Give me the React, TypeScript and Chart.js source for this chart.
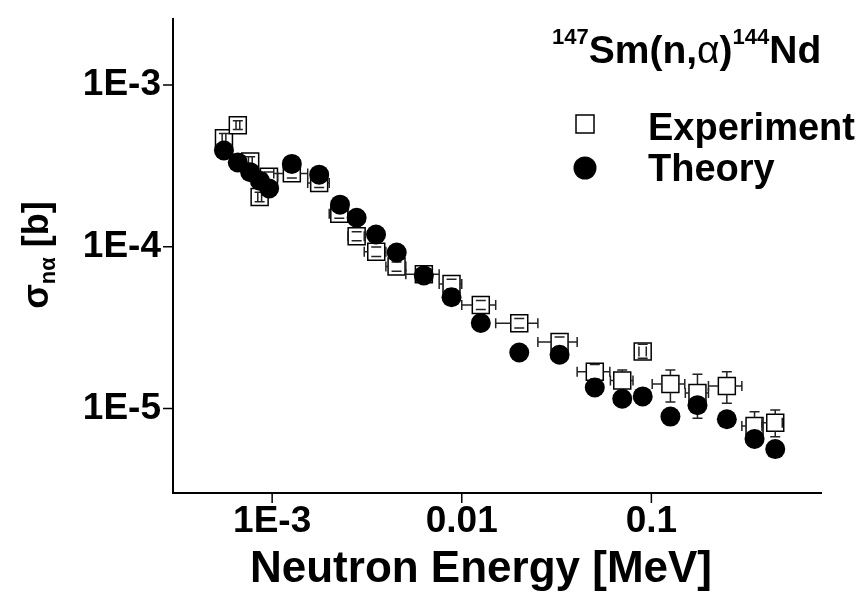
import React, { useEffect, useRef } from 'react';
import { Chart, registerables } from 'chart.js';

Chart.register(...registerables);

// ---------- data ----------
const expEnergy = [5.57e-4, 6.59e-4, 7.66e-4, 8.59e-4, 9.62e-4, 1.27e-3, 1.77e-3, 2.26e-3, 2.79e-3, 3.54e-3, 4.53e-3, 6.31e-3, 8.83e-3, 1.26e-2, 2.01e-2, 3.28e-2, 5.03e-2, 7.02e-2, 9.0e-2, 0.126, 0.175, 0.25, 0.35, 0.45];
const expSigma = [4.69e-4, 5.63e-4, 3.36e-4, 2.03e-4, 2.71e-4, 2.84e-4, 2.48e-4, 1.6e-4, 1.16e-4, 9.31e-5, 7.55e-5, 6.76e-5, 5.89e-5, 4.37e-5, 3.37e-5, 2.58e-5, 1.69e-5, 1.49e-5, 2.25e-5, 1.42e-5, 1.25e-5, 1.38e-5, 7.82e-6, 8.18e-6];
const expEnergyLow = [5.45e-4, 6.45e-4, 7.5e-4, 8.4e-4, 8.9e-4, 1.02e-3, 1.54e-3, 2.0e-3, 2.51e-3, 3.06e-3, 3.98e-3, 5.07e-3, 7.6e-3, 1.0e-2, 1.51e-2, 2.52e-2, 4.06e-2, 6.08e-2, 8.6e-2, 0.101, 0.151, 0.2, 0.3, 0.383];
const expEnergyHigh = [5.7e-4, 6.75e-4, 7.85e-4, 8.8e-4, 1.07e-3, 1.54e-3, 2.0e-3, 2.51e-3, 3.06e-3, 3.98e-3, 5.07e-3, 7.6e-3, 1.0e-2, 1.51e-2, 2.52e-2, 4.06e-2, 6.04e-2, 8.0e-2, 9.4e-2, 0.15, 0.2, 0.3, 0.383, 0.49];
const expSigmaLow = [4.4e-4, 5.3e-4, 3.15e-4, 1.9e-4, 2.55e-4, 2.66e-4, 2.32e-4, 1.5e-4, 1.09e-4, 8.7e-5, 7.05e-5, 6.3e-5, 5.5e-5, 4.1e-5, 3.15e-5, 2.4e-5, 1.52e-5, 1.28e-5, 2.05e-5, 1.1e-5, 8.73e-6, 1.08e-5, 6.4e-6, 6.7e-6];
const expSigmaHigh = [5.0e-4, 6.0e-4, 3.6e-4, 2.17e-4, 2.9e-4, 3.03e-4, 2.65e-4, 1.71e-4, 1.24e-4, 9.95e-5, 8.05e-5, 7.2e-5, 6.3e-5, 4.65e-5, 3.6e-5, 2.77e-5, 1.87e-5, 1.73e-5, 2.5e-5, 1.73e-5, 1.63e-5, 1.69e-5, 9.57e-6, 9.8e-6];

const theoryEnergy = [5.57e-4, 6.59e-4, 7.66e-4, 8.61e-4, 9.64e-4, 1.27e-3, 1.77e-3, 2.28e-3, 2.79e-3, 3.53e-3, 4.54e-3, 6.31e-3, 8.83e-3, 1.26e-2, 2.01e-2, 3.28e-2, 5.03e-2, 7.02e-2, 9.0e-2, 0.126, 0.175, 0.25, 0.35, 0.45];
const theorySigma = [3.93e-4, 3.32e-4, 2.89e-4, 2.56e-4, 2.29e-4, 3.25e-4, 2.79e-4, 1.82e-4, 1.51e-4, 1.19e-4, 9.22e-5, 6.65e-5, 4.88e-5, 3.38e-5, 2.22e-5, 2.15e-5, 1.35e-5, 1.15e-5, 1.19e-5, 8.93e-6, 1.05e-5, 8.59e-6, 6.5e-6, 5.62e-6];

const xMajorTicks = [1e-3, 1e-2, 1e-1];
const xTickLabels = ['1E-3', '0.01', '0.1'];
const yMajorTicks = [1e-5, 1e-4, 1e-3];
const yTickLabels = ['1E-5', '1E-4', '1E-3'];
const X_MIN = 3.05e-4;
const X_MAX = 0.794;
const Y_MIN = 3.01e-6;
const Y_MAX = 2.59e-3;

const seriesLabels = ['Experiment', 'Theory'];
const xTitle = 'Neutron Energy [MeV]';

const FONT = '"Liberation Sans", Arial, Helvetica, sans-serif';

function logTicks(min: number, max: number) {
  const out: { value: number; major: boolean }[] = [];
  for (let e = Math.floor(Math.log10(min)); e <= Math.ceil(Math.log10(max)); e++) {
    for (let m = 1; m <= 9; m++) {
      const v = parseFloat((m * Math.pow(10, e)).toPrecision(6));
      if (v >= min && v <= max) out.push({ value: v, major: m === 1 });
    }
  }
  return out;
}

function labelFor(value: number, majors: number[], labels: string[]) {
  const i = majors.findIndex((v) => Math.abs(v - value) / v < 1e-6);
  return i >= 0 ? labels[i] : null;
}

const customPlugin = {
  id: 'customDraw',
  afterDatasetDraw(chart: any, args: any) {
    if (args.index !== 0) return;
    const { ctx, scales } = chart;
    const x = scales.x;
    const y = scales.y;
    const half = 8.5;
    const cap = 5;
    ctx.save();
    ctx.strokeStyle = '#222';
    ctx.lineWidth = 1.5;
    for (let i = 0; i < expEnergy.length; i++) {
      const px = x.getPixelForValue(expEnergy[i]);
      const py = y.getPixelForValue(expSigma[i]);
      const top = y.getPixelForValue(expSigmaHigh[i]);
      const bot = y.getPixelForValue(expSigmaLow[i]);
      const left = x.getPixelForValue(expEnergyLow[i]);
      const right = x.getPixelForValue(expEnergyHigh[i]);
      ctx.beginPath();
      if (py - top > half) { ctx.moveTo(px, py - half); ctx.lineTo(px, top); }
      ctx.moveTo(px - cap, top); ctx.lineTo(px + cap, top);
      if (bot - py > half) { ctx.moveTo(px, py + half); ctx.lineTo(px, bot); }
      ctx.moveTo(px - cap, bot); ctx.lineTo(px + cap, bot);
      if (px - left > half) { ctx.moveTo(px - half, py); ctx.lineTo(left, py); }
      ctx.moveTo(left, py - cap); ctx.lineTo(left, py + cap);
      if (right - px > half) { ctx.moveTo(px + half, py); ctx.lineTo(right, py); }
      ctx.moveTo(right, py - cap); ctx.lineTo(right, py + cap);
      ctx.stroke();
    }
    ctx.restore();
  },
  afterDraw(chart: any) {
    const { ctx, chartArea: ca, scales } = chart;
    const x = scales.x;
    const y = scales.y;
    ctx.save();
    ctx.strokeStyle = '#000';
    ctx.fillStyle = '#000';
    // axis lines
    ctx.lineWidth = 2;
    ctx.beginPath();
    ctx.moveTo(ca.left, ca.top);
    ctx.lineTo(ca.left, ca.bottom);
    ctx.lineTo(ca.right, ca.bottom);
    ctx.stroke();
    // tick marks
    ctx.lineWidth = 1.5;
    ctx.beginPath();
    x.ticks.forEach((t: any) => {
      const p = x.getPixelForValue(t.value);
      ctx.moveTo(p, ca.bottom);
      ctx.lineTo(p, ca.bottom + (t.major ? 10 : 6));
    });
    y.ticks.forEach((t: any) => {
      const p = y.getPixelForValue(t.value);
      ctx.moveTo(ca.left, p);
      ctx.lineTo(ca.left - (t.major ? 10 : 6), p);
    });
    ctx.stroke();

    // x title
    ctx.font = `bold 44px ${FONT}`;
    ctx.textAlign = 'center';
    ctx.textBaseline = 'alphabetic';
    ctx.fillText(xTitle, 481, 582);

    // y title: sigma_{n alpha} [b]
    ctx.save();
    ctx.translate(48, 255);
    ctx.rotate(-Math.PI / 2);
    ctx.textAlign = 'left';
    const parts = [
      { t: 'σ', f: `bold 36px ${FONT}`, dy: 0 },
      { t: 'nα', f: `bold 22px ${FONT}`, dy: 7 },
      { t: ' [b]', f: `bold 36px ${FONT}`, dy: 0 },
    ];
    let total = 0;
    parts.forEach((p) => { ctx.font = p.f; total += ctx.measureText(p.t).width; });
    let cx = -total / 2;
    parts.forEach((p) => { ctx.font = p.f; ctx.fillText(p.t, cx, p.dy); cx += ctx.measureText(p.t).width; });
    ctx.restore();

    // legend title: 147Sm(n,α)144Nd
    const tparts = [
      { t: '147', f: `bold 22px ${FONT}`, dy: -19 },
      { t: 'Sm(n,', f: `bold 39px ${FONT}`, dy: 0 },
      { t: 'α', f: `39px ${FONT}`, dy: 0 },
      { t: ')', f: `bold 39px ${FONT}`, dy: 0 },
      { t: '144', f: `bold 22px ${FONT}`, dy: -19 },
      { t: 'Nd', f: `bold 39px ${FONT}`, dy: 0 },
    ];
    ctx.textAlign = 'left';
    let tx = 552;
    tparts.forEach((p) => { ctx.font = p.f; ctx.fillText(p.t, tx, 63 + p.dy); tx += ctx.measureText(p.t).width; });

    // legend items
    ctx.lineWidth = 1.5;
    ctx.fillStyle = '#fff';
    ctx.fillRect(576, 115, 18, 18);
    ctx.strokeRect(576, 115, 18, 18);
    ctx.fillStyle = '#000';
    ctx.beginPath();
    ctx.arc(585, 168, 11.5, 0, Math.PI * 2);
    ctx.fill();
    ctx.font = `bold 38px ${FONT}`;
    ctx.fillText(seriesLabels[0], 648, 140);
    ctx.fillText(seriesLabels[1], 648, 181);
    ctx.restore();
  },
};

export default function App() {
  const ref = useRef<HTMLCanvasElement>(null);
  useEffect(() => {
    const canvas = ref.current;
    if (!canvas) return;
    const chart = new Chart(canvas, {
      type: 'scatter',
      data: {
        datasets: [
          {
            label: seriesLabels[0],
            data: expEnergy.map((e, i) => ({ x: e, y: expSigma[i] })),
            pointStyle: 'rect',
            pointRadius: 12,
            pointHoverRadius: 12,
            backgroundColor: '#fff',
            borderColor: '#000',
            borderWidth: 1.5,
            order: 2,
          },
          {
            label: seriesLabels[1],
            data: theoryEnergy.map((e, i) => ({ x: e, y: theorySigma[i] })),
            pointStyle: 'circle',
            pointRadius: 10,
            pointHoverRadius: 10,
            backgroundColor: '#000',
            borderColor: '#000',
            borderWidth: 0,
            order: 1,
          },
        ],
      },
      options: {
        responsive: false,
        animation: false,
        devicePixelRatio: 1,
        events: [],
        layout: { padding: { top: 18, right: 41, left: 0, bottom: 0 } },
        plugins: { legend: { display: false }, tooltip: { enabled: false }, title: { display: false } },
        scales: {
          x: {
            type: 'logarithmic',
            min: X_MIN,
            max: X_MAX,
            grid: { display: false, drawTicks: false },
            border: { display: false },
            afterBuildTicks: (scale: any) => { scale.ticks = logTicks(X_MIN, X_MAX); },
            afterFit: (scale: any) => {
              scale.height = 100;
              scale.paddingLeft = 0; scale.paddingRight = 0; scale.paddingTop = 0; scale.paddingBottom = 0;
            },
            ticks: {
              autoSkip: false,
              maxRotation: 0,
              minRotation: 0,
              padding: 7,
              color: '#000',
              font: { family: FONT, size: 37, weight: 'bold' },
              callback: (v: any) => labelFor(Number(v), xMajorTicks, xTickLabels),
            },
          },
          y: {
            type: 'logarithmic',
            min: Y_MIN,
            max: Y_MAX,
            grid: { display: false, drawTicks: false },
            border: { display: false },
            afterBuildTicks: (scale: any) => { scale.ticks = logTicks(Y_MIN, Y_MAX); },
            afterFit: (scale: any) => {
              scale.width = 173;
              scale.paddingLeft = 0; scale.paddingRight = 0; scale.paddingTop = 0; scale.paddingBottom = 0;
            },
            ticks: {
              autoSkip: false,
              padding: 12,
              color: '#000',
              font: { family: FONT, size: 37, weight: 'bold' },
              callback: (v: any) => labelFor(Number(v), yMajorTicks, yTickLabels),
            },
          },
        },
      } as any,
      plugins: [customPlugin],
    });
    return () => chart.destroy();
  }, []);
  return (
    <div style={{ position: 'fixed', left: 0, top: 0, width: 863, height: 593, background: '#fff' }}>
      <canvas ref={ref} width={863} height={593} style={{ display: 'block', width: 863, height: 593 }} />
    </div>
  );
}
